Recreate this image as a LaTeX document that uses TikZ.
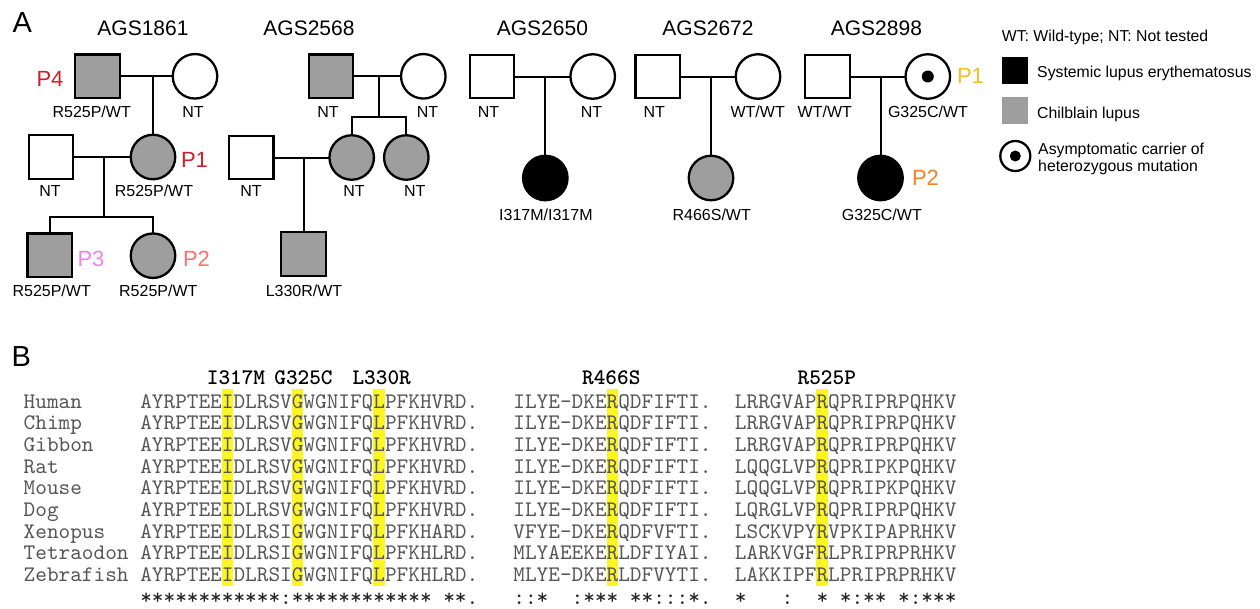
\documentclass[tikz,border=0pt]{standalone}
\usepackage{fontspec}
\setmainfont{Liberation Sans}
\newfontfamily\seqfont{lmmono10-regular.otf}
\newfontfamily\mutfont{lmmonolt10-bold.otf}
\definecolor{chil}{RGB}{158,158,158}
\definecolor{hl}{RGB}{250,245,35}
\definecolor{seqgray}{RGB}{85,85,85}
\definecolor{pred}{RGB}{210,30,45}
\definecolor{ppink}{RGB}{240,130,240}
\definecolor{psalmon}{RGB}{250,115,115}
\definecolor{pgold}{RGB}{250,190,30}
\definecolor{porange}{RGB}{250,130,30}
\frenchspacing
\begin{document}
\begin{tikzpicture}[x=1pt,y=-1pt,
 ind/.style={draw=black,line width=2.3pt,inner sep=0pt,outer sep=0pt},
 male/.style={ind,rectangle,minimum width=44.5pt,minimum height=43.5pt},
 female/.style={ind,circle,minimum size=44.5pt},
 cl/.style={fill=chil},
 sle/.style={fill=black},
 rel/.style={line width=2pt},
 gt/.style={font=\fontsize{16}{18}\selectfont,inner sep=0pt,anchor=base},
 ttl/.style={font=\fontsize{21}{24}\selectfont,inner sep=0pt,anchor=base},
 plab/.style={font=\fontsize{22}{24}\selectfont,inner sep=0pt,anchor=base},
 panel/.style={font=\fontsize{29}{32}\selectfont,inner sep=0pt,anchor=base west},
 leg/.style={font=\fontsize{15.8}{18}\selectfont,inner sep=0pt,anchor=base west},
 seq/.style={font=\seqfont\fontsize{22.2}{24}\selectfont,text=seqgray,inner sep=0pt,anchor=base west},
 mut/.style={font=\mutfont\fontsize{22.2}{24}\selectfont,inner sep=0pt,anchor=base},
 cons/.style={font=\seqfont\fontsize{22.2}{24}\selectfont,text=black!85,inner sep=0pt,anchor=base west},
 hlbox/.style={fill=hl,draw=none}
]
\fill[white] (0,0) rectangle (1260,608);

% ---------- panel letters
\node[panel] (A) at (12.5,32) {A};
\node[panel] (B) at (11.5,366.7) {B};

% ---------- titles
\node[ttl] (t1) at (143,35) {AGS1861};
\node[ttl] (t2) at (309,35) {AGS2568};
\node[ttl] (t3) at (542.4,35) {AGS2650};
\node[ttl] (t4) at (708,35) {AGS2672};
\node[ttl] (t5) at (876.4,35) {AGS2898};

% ---------- AGS1861
\node[male,cl] (f1) at (97.4,76.3) {};
\node[female] (m1) at (195,76.3) {};
\node[female,cl] (p1a) at (153,157) {};
\node[male] (h1) at (51,157) {};
\node[male,cl] (p3a) at (49.7,255.3) {};
\node[female,cl] (p2a) at (153,255.7) {};
\coordinate (j1) at (153,76.3);
\coordinate (j2) at (104,157);
\coordinate (s2) at (104,217.3);
\draw[rel] (f1.east) -- (m1.west);
\draw[rel] (j1) -- (p1a.north);
\draw[rel] (h1.east) -- (p1a.west);
\draw[rel] (j2) -- (s2);
\draw[rel] (p3a.north) |- (p2a.north |- s2) -- (p2a.north);
\node[gt] (g1) at (91.7,117) {R525P/WT};
\node[gt] (g2) at (193,117) {NT};
\node[gt] (g3) at (154,196.7) {R525P/WT};
\node[gt] (g4) at (50,196.7) {NT};
\node[gt] (g5) at (51.7,296.7) {R525P/WT};
\node[gt] (g6) at (158.3,296.7) {R525P/WT};
\node[plab,text=pred] (P4a) at (50,86.7) {P4};
\node[plab,text=pred] (P1a) at (194.5,167) {P1};
\node[plab,text=ppink] (P3a) at (91,266.7) {P3};
\node[plab,text=psalmon] (P2a) at (196.5,266.7) {P2};

% ---------- AGS2568
\node[male,cl] (f2) at (331,76.3) {};
\node[female] (m2) at (423.3,76.3) {};
\node[female,cl] (d1) at (351.7,157.5) {};
\node[female,cl] (d2) at (406.3,157.5) {};
\node[male] (h2) at (251.3,157.5) {};
\node[male,cl] (c2) at (303.5,254) {};
\coordinate (j3) at (379,76.3);
\coordinate (s3) at (379,117.3);
\coordinate (j4) at (303.5,157.5);
\draw[rel] (f2.east) -- (m2.west);
\draw[rel] (j3) -- (s3);
\draw[rel] (d1.north) |- (d2.north |- s3) -- (d2.north);
\draw[rel] (h2.east) -- (d1.west);
\draw[rel] (j4) -- (c2.north);
\node[gt] (g7) at (328,117) {NT};
\node[gt] (g8) at (427.5,117) {NT};
\node[gt] (g9) at (251,196.7) {NT};
\node[gt] (g10) at (354,196.7) {NT};
\node[gt] (g11) at (414.7,196.7) {NT};
\node[gt] (g12) at (304,296.7) {L330R/WT};

% ---------- AGS2650
\node[male] (f3) at (492,76.5) {};
\node[female] (m3) at (592.7,76.5) {};
\node[female,sle] (c3) at (545.3,178) {};
\coordinate (j5) at (545.3,76.5);
\draw[rel] (f3.east) -- (m3.west);
\draw[rel] (j5) -- (c3.north);
\node[gt] (g13) at (488.5,117) {NT};
\node[gt] (g14) at (591.5,117) {NT};
\node[gt] (g15) at (545.9,220) {I317M/I317M};

% ---------- AGS2672
\node[male] (f4) at (657.6,76.5) {};
\node[female] (m4) at (758,76.5) {};
\node[female,cl] (c4) at (711,178) {};
\coordinate (j6) at (711,76.5);
\draw[rel] (f4.east) -- (m4.west);
\draw[rel] (j6) -- (c4.north);
\node[gt] (g16) at (654.2,117) {NT};
\node[gt] (g17) at (757.7,117) {WT/WT};
\node[gt] (g18) at (711.7,220) {R466S/WT};

% ---------- AGS2898
\node[male] (f5) at (827.4,76.5) {};
\node[female] (m5) at (927.8,76.5) {};
\node[circle,fill=black,minimum size=12pt,inner sep=0pt] (dt5) at (m5) {};
\node[female,sle] (c5) at (880.5,178) {};
\coordinate (j7) at (880.5,76.5);
\draw[rel] (f5.east) -- (m5.west);
\draw[rel] (j7) -- (c5.north);
\node[gt] (g19) at (824.8,117) {WT/WT};
\node[gt] (g20) at (928,117) {G325C/WT};
\node[gt] (g21) at (881.8,220) {G325C/WT};
\node[plab,text=pgold] (P1e) at (970.5,83.3) {P1};
\node[plab,text=porange] (P2e) at (925.5,185) {P2};

% ---------- legend
\node[leg] (lw) at (1001.7,41.7) {WT: Wild-type; NT: Not tested};
\node[fill=black,minimum width=26pt,minimum height=27pt,inner sep=0pt] (ls) at (1015.3,70.8) {};
\node[leg] (lst) at (1037,77) {Systemic lupus erythematosus};
\node[fill=chil,minimum width=26pt,minimum height=27pt,inner sep=0pt] (lc) at (1015.3,110.8) {};
\node[leg] (lct) at (1037,118.3) {Chilblain lupus};
\node[ind,circle,minimum size=30pt] (lcar) at (1015.3,156) {};
\node[circle,fill=black,minimum size=11pt,inner sep=0pt] (ldot) at (lcar) {};
\node[leg] (la1) at (1038,154) {Asymptomatic carrier of};
\node[leg] (la2) at (1038,171) {heterozygous mutation};

% ---------- panel B: alignment
\foreach \c in {17,23,30,50,68}
  \fill[hlbox] ({23.5+\c*11.66},389) rectangle ++(11.66,197);

\node[mut] (mu1) at (236,384.3) {I317M};
\node[mut] (mu2) at (303.5,384.3) {G325C};
\node[mut] (mu3) at (381.7,384.3) {L330R};
\node[mut] (mu4) at (611.3,384.3) {R466S};
\node[mut] (mu5) at (826.8,384.3) {R525P};

\foreach \i/\nm/\sa/\sb/\sc in {
 0/Human/AYRPTEEIDLRSVGWGNIFQLPFKHVRD./ILYE-DKERQDFIFTI./LRRGVAPRQPRIPRPQHKV,
 1/Chimp/AYRPTEEIDLRSVGWGNIFQLPFKHVRD./ILYE-DKERQDFIFTI./LRRGVAPRQPRIPRPQHKV,
 2/Gibbon/AYRPTEEIDLRSVGWGNIFQLPFKHVRD./ILYE-DKERQDFIFTI./LRRGVAPRQPRIPRPQHKV,
 3/Rat/AYRPTEEIDLRSVGWGNIFQLPFKHVRD./ILYE-DKERQDFIFTI./LQQGLVPRQPRIPKPQHKV,
 4/Mouse/AYRPTEEIDLRSVGWGNIFQLPFKHVRD./ILYE-DKERQDFIFTI./LQQGLVPRQPRIPKPQHKV,
 5/Dog/AYRPTEEIDLRSVGWGNIFQLPFKHVRD./ILYE-DKERQDFIFTI./LQRGLVPRQPRIPRPQHKV,
 6/Xenopus/AYRPTEEIDLRSIGWGNIFQLPFKHARD./VFYE-DKERQDFVFTI./LSCKVPYRVPKIPAPRHKV,
 7/Tetraodon/AYRPTEEIDLRSIGWGNIFQLPFKHLRD./MLYAEEKERLDFIYAI./LARKVGFRLPRIPRPRHKV,
 8/Zebrafish/AYRPTEEIDLRSIGWGNIFQLPFKHLRD./MLYE-DKERLDFVYTI./LAKKIPFRLPRIPRPRHKV}
{
  \node[seq] (sp\i) at (23.5,{408+\i*21.67}) {\nm};
  \node[seq] (sa\i) at ({23.5+10*11.66},{408+\i*21.67}) {\sa};
  \node[seq] (sb\i) at ({23.5+42*11.66},{408+\i*21.67}) {\sb};
  \node[seq] (sc\i) at ({23.5+61*11.66},{408+\i*21.67}) {\sc};
}
\node[cons] (ca) at ({23.5+10*11.66},604) {************:************~**.};
\node[cons] (cb) at ({23.5+42*11.66},604) {::*~~:***~**:::*.};
\node[cons] (cc) at ({23.5+61*11.66},604) {*~~~:~~*~*:**~*:***};
\end{tikzpicture}
\end{document}
